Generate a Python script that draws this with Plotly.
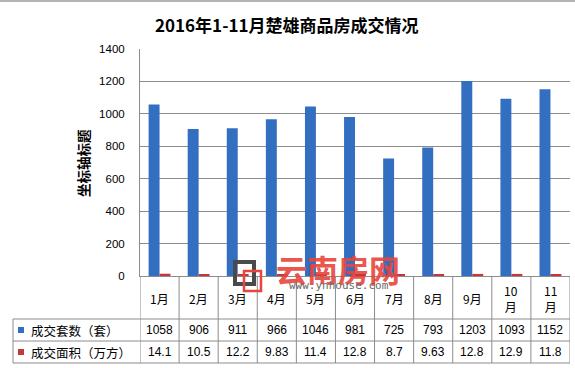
import plotly.graph_objects as go

# ---- data ----
months = ["1月", "2月", "3月", "4月", "5月", "6月", "7月", "8月", "9月", "10月", "11月"]
units = [1058, 906, 911, 966, 1046, 981, 725, 793, 1203, 1093, 1152]
areas = [14.1, 10.5, 12.2, 9.83, 11.4, 12.8, 8.7, 9.63, 12.8, 12.9, 11.8]
series_names = ["成交套数（套）", "成交面积（万方）"]
title_text = "2016年1-11月楚雄商品房成交情况"
y_title = "坐标轴标题"

W, H = 575, 368
L, R, T, B = 140, 570, 49, 276  # plot area in pixels

def px(x):
    return (x - L) / (R - L)

def py(y):
    return (B - y) / (B - T)

BLUE = "#336fc1"
RED = "#c0393b"
GRID = "#8c8c8c"
CJK = "Noto Sans CJK SC"
NUM = "Liberation Sans"

xs = list(range(len(months)))

fig = go.Figure()
fig.add_trace(go.Bar(x=xs, y=units, name=series_names[0], marker=dict(color=BLUE, line=dict(width=0))))
fig.add_trace(go.Bar(x=xs, y=areas, name=series_names[1], marker=dict(color=RED, line=dict(width=0))))

annotations = []
shapes = []

# title
annotations.append(dict(text="<b>" + title_text + "</b>", x=px(287), y=py(24), xref="paper", yref="paper",
                        xanchor="center", yanchor="middle", showarrow=False,
                        font=dict(family=CJK, size=17, color="#000000")))

# y-axis title
annotations.append(dict(text="<b>" + y_title + "</b>", x=px(83), y=py(163), xref="paper", yref="paper",
                        textangle=-90, showarrow=False, xanchor="center", yanchor="middle",
                        font=dict(family=CJK, size=13.5, color="#000000")))

# table: month row
for i, m in enumerate(months):
    lab = m if len(m) <= 2 else m.replace("月", "<br>月")
    annotations.append(dict(text=lab, x=i, y=py(298), xref="x", yref="paper", showarrow=False,
                            xanchor="center", yanchor="middle",
                            font=dict(family=CJK, size=12, color="#000000")))
# table rows
row_y = [py(330), py(352)]
for i in xs:
    annotations.append(dict(text=str(units[i]), x=i, y=row_y[0], xref="x", yref="paper", showarrow=False,
                            xanchor="center", yanchor="middle", font=dict(family=NUM, size=12, color="#000000")))
    annotations.append(dict(text=str(areas[i]), x=i, y=row_y[1], xref="x", yref="paper", showarrow=False,
                            xanchor="center", yanchor="middle", font=dict(family=NUM, size=12, color="#000000")))
# legend labels in table
for k, (nm, col) in enumerate(zip(series_names, [BLUE, RED])):
    yc = [330, 352][k]
    annotations.append(dict(text=nm, x=px(29), y=py(yc), xref="paper", yref="paper", showarrow=False,
                            xanchor="left", yanchor="middle", font=dict(family=CJK, size=12.5, color="#000000")))
    shapes.append(dict(type="rect", xref="paper", yref="paper", x0=px(18), x1=px(24), y0=py(yc - 3), y1=py(yc + 3),
                       fillcolor=col, line=dict(width=0)))

LINE = dict(color=GRID, width=1)
# vertical lines of table
for k in range(len(months) + 1):
    shapes.append(dict(type="line", xref="x", yref="paper", x0=k - 0.5, x1=k - 0.5, y0=0, y1=py(363), line=LINE))
shapes.append(dict(type="line", xref="paper", yref="paper", x0=px(13), x1=px(13), y0=py(319), y1=py(363), line=LINE))
# horizontal lines of table
for yy in [319, 341, 363]:
    shapes.append(dict(type="line", xref="paper", yref="paper", x0=px(13), x1=1, y0=py(yy), y1=py(yy), line=LINE))
# top border of chart
shapes.append(dict(type="line", xref="paper", yref="paper", x0=px(0), x1=px(W), y0=py(1), y1=py(1),
                   line=dict(color="#9a9a9a", width=1.5)))

# watermark
shapes.append(dict(type="rect", xref="paper", yref="paper", x0=px(235), x1=px(254), y0=py(262), y1=py(284),
                   line=dict(color="#4a4a4a", width=4), fillcolor="rgba(0,0,0,0)"))
shapes.append(dict(type="rect", xref="paper", yref="paper", x0=px(244), x1=px(261), y0=py(271), y1=py(291),
                   line=dict(color="#e8453c", width=2.5), fillcolor="rgba(0,0,0,0)"))
annotations.append(dict(text="<b>云南房网</b>", x=px(338), y=py(268), xref="paper", yref="paper", showarrow=False,
                        xanchor="center", yanchor="middle", opacity=0.9,
                        font=dict(family=CJK, size=31, color="#e8453c")))
annotations.append(dict(text="www.ynhouse.com", x=px(339), y=py(285.5), xref="paper", yref="paper", showarrow=False,
                        xanchor="center", yanchor="middle",
                        font=dict(family="DejaVu Sans Mono", size=11, color="#6a6a6a")))

fig.update_layout(
    width=W, height=H,
    margin=dict(l=L, r=W - R, t=T, b=H - B, pad=0),
    paper_bgcolor="white", plot_bgcolor="white",
    showlegend=False,
    barmode="group", bargap=0.44, bargroupgap=0,
    annotations=annotations, shapes=shapes,
    xaxis=dict(range=[-0.5, len(months) - 0.5], showticklabels=False, showgrid=False, zeroline=False,
               showline=True, linecolor=GRID, linewidth=1, ticks=""),
    yaxis=dict(range=[0, 1400], dtick=200, showgrid=True, gridcolor=GRID, gridwidth=1, zeroline=False,
               showline=True, linecolor=GRID, linewidth=1, ticks="", ticklabelstandoff=12,
               tickfont=dict(family=NUM, size=11.5, color="#000000")),
)

fig.write_html("out.html", config={"responsive": False, "displayModeBar": False},
               post_script="document.body.style.margin='0';document.body.style.overflow='hidden';")
